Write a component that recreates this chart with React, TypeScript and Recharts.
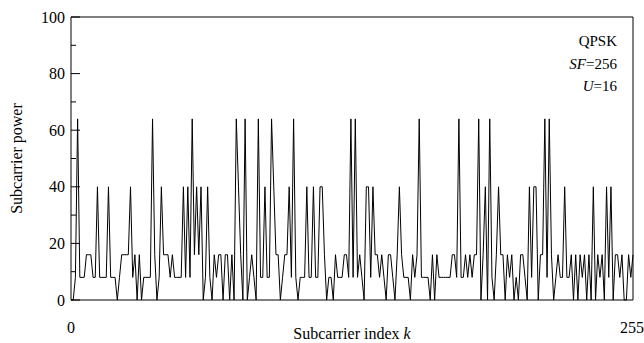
import { LineChart, Line, XAxis, YAxis, Label } from "recharts";

// subcarrier power, k = 0..255
const power = [
  0, 0, 8, 64, 8, 8, 8, 16, 16, 16, 8, 8, 40, 8, 8, 8,
  8, 40, 8, 8, 8, 0, 8, 16, 16, 16, 16, 40, 8, 16, 0, 16,
  0, 8, 8, 8, 8, 64, 16, 0, 8, 40, 16, 16, 16, 8, 16, 8,
  8, 8, 8, 40, 8, 40, 8, 64, 16, 40, 16, 40, 0, 8, 40, 8,
  0, 16, 8, 16, 16, 0, 16, 16, 0, 16, 0, 64, 40, 16, 0, 64,
  0, 8, 16, 8, 0, 64, 8, 8, 40, 8, 8, 64, 40, 16, 16, 0,
  8, 16, 16, 40, 8, 64, 8, 0, 8, 8, 8, 40, 8, 8, 40, 8,
  8, 40, 40, 16, 0, 8, 8, 0, 16, 8, 8, 8, 16, 16, 8, 64,
  8, 64, 8, 16, 8, 0, 40, 40, 8, 40, 16, 16, 8, 16, 8, 0,
  16, 16, 8, 0, 16, 40, 16, 8, 8, 8, 0, 16, 8, 16, 64, 8,
  8, 8, 8, 0, 16, 0, 16, 8, 8, 8, 8, 8, 8, 16, 16, 8,
  64, 8, 8, 16, 8, 16, 8, 16, 16, 64, 0, 16, 40, 0, 64, 8,
  0, 16, 40, 16, 16, 0, 16, 8, 16, 0, 8, 0, 16, 16, 8, 0,
  40, 8, 40, 40, 0, 16, 16, 64, 8, 64, 16, 0, 8, 16, 8, 8,
  40, 8, 8, 16, 0, 16, 0, 16, 8, 16, 0, 16, 0, 40, 0, 16,
  8, 16, 0, 40, 8, 40, 0, 16, 16, 8, 16, 0, 0, 16, 8, 16,
];

const yTicks = [0, 10, 20, 30, 40, 50, 60, 70, 80, 90, 100];
const xTicks = [0, 255];

const data = power.map((p, k) => ({ k, power: p }));

const font = "'Liberation Serif', 'Times New Roman', serif";

const LeftTick = (props: any) => {
  const { x, y, payload } = props;
  const major = payload.value % 20 === 0;
  return (
    <g>
      <line x1={x} x2={x + (major ? 9 : 5)} y1={y} y2={y} stroke="#000" />
      {major && (
        <text x={x - 6} y={y} dy={5.5} textAnchor="end" fontSize={16} fontFamily={font} fill="#000">
          {payload.value}
        </text>
      )}
    </g>
  );
};

const RightTick = (props: any) => {
  const { x, y, payload } = props;
  const major = payload.value % 20 === 0;
  return <line x1={x} x2={x - (major ? 9 : 5)} y1={y} y2={y} stroke="#000" />;
};

const BottomTick = (props: any) => {
  const { x, y, payload } = props;
  return (
    <text x={x} y={y + 33} textAnchor="middle" fontSize={16} fontFamily={font} fill="#000">
      {payload.value}
    </text>
  );
};

export default function App() {
  return (
    <div style={{ position: "absolute", left: 0, top: 0, width: 644, height: 343, background: "#fff" }}>
      <LineChart
        width={644}
        height={343}
        data={data}
        margin={{ top: 16, right: 10, bottom: 0, left: 70 }}
      >
        <XAxis
          xAxisId="bottom"
          dataKey="k"
          type="number"
          domain={[0, 255]}
          ticks={xTicks}
          height={43}
          stroke="#000"
          tickLine={false}
          tickSize={0}
          tickMargin={0}
          tick={<BottomTick />}
        >
          <Label
            content={({ viewBox }: any) => (
              <text
                x={viewBox.x + viewBox.width / 2}
                y={viewBox.y + 39}
                textAnchor="middle"
                fontSize={16}
                fontFamily={font}
                fill="#000"
              >
                Subcarrier index <tspan fontStyle="italic">k</tspan>
              </text>
            )}
          />
        </XAxis>
        <XAxis
          xAxisId="top"
          orientation="top"
          dataKey="k"
          type="number"
          domain={[0, 255]}
          height={1}
          stroke="#000"
          tick={false}
          tickLine={false}
        />
        <YAxis
          yAxisId="left"
          domain={[0, 100]}
          ticks={yTicks}
          width={1}
          stroke="#000"
          tickLine={false}
          tickSize={0}
          tickMargin={0}
          interval={0}
          tick={<LeftTick />}
        >
          <Label
            content={({ viewBox }: any) => (
              <text
                x={16}
                y={viewBox.y + viewBox.height / 2}
                transform={`rotate(-90 16 ${viewBox.y + viewBox.height / 2})`}
                textAnchor="middle"
                dominantBaseline="central"
                fontSize={16}
                fontFamily={font}
                fill="#000"
              >
                Subcarrier power
              </text>
            )}
          />
        </YAxis>
        <YAxis
          yAxisId="right"
          orientation="right"
          domain={[0, 100]}
          ticks={yTicks}
          width={1}
          stroke="#000"
          tickLine={false}
          tickSize={0}
          tickMargin={0}
          interval={0}
          tick={<RightTick />}
        />
        <Line
          xAxisId="bottom"
          yAxisId="left"
          type="linear"
          dataKey="power"
          stroke="#000"
          strokeWidth={1}
          dot={false}
          isAnimationActive={false}
        />
      </LineChart>
      <div
        style={{
          position: "absolute",
          right: 27,
          top: 30,
          textAlign: "right",
          fontFamily: font,
          fontSize: 15,
          lineHeight: "22.5px",
          color: "#000",
        }}
      >
        <div>QPSK</div>
        <div>
          <i>SF</i>=256
        </div>
        <div>
          <i>U</i>=16
        </div>
      </div>
    </div>
  );
}
